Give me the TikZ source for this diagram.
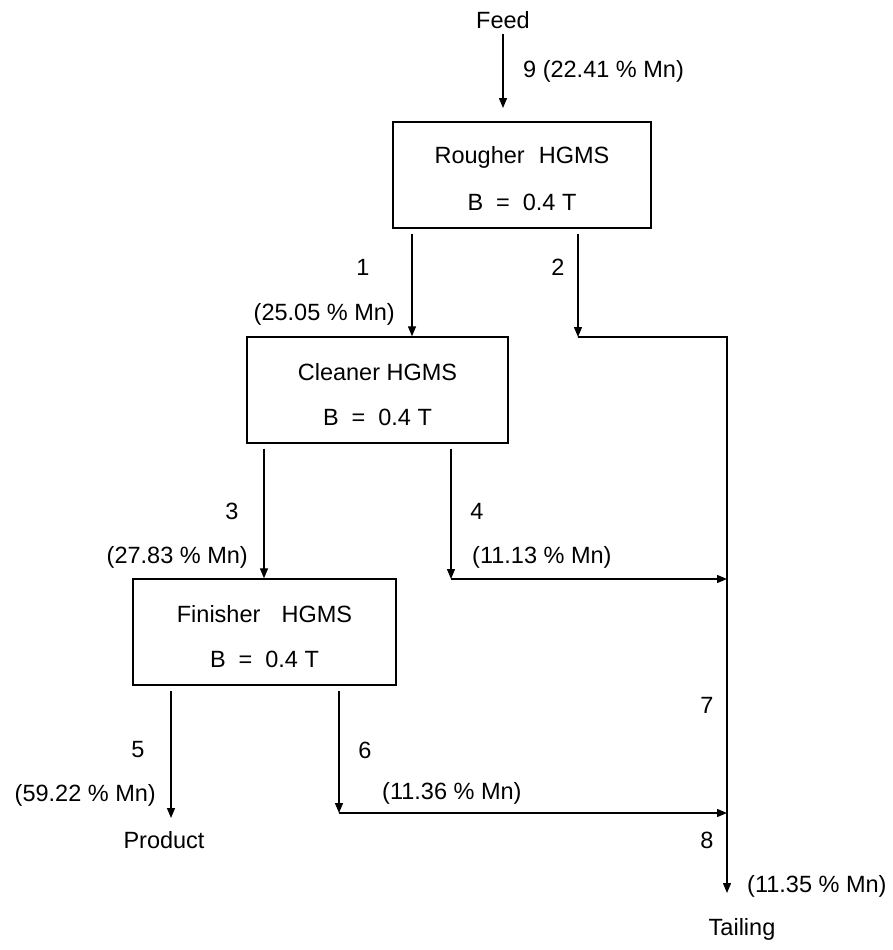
\documentclass[tikz,border=0pt]{standalone}
\usepackage{fontspec}
\setmainfont{Liberation Sans}
\usetikzlibrary{arrows.meta}
\begin{document}
\begin{tikzpicture}[x=1pt,y=-1pt,
  every node/.style={font=\fontsize{23.5}{28}\selectfont, inner sep=0pt},
  box/.style={draw, line width=1.4pt},
  arr/.style={line width=1.3pt, -{Triangle[length=10pt,width=8pt]}},
  ln/.style={line width=1.3pt}]
\useasboundingbox (0,0) rectangle (893,950);

% boxes
\node[box, minimum width=258pt, minimum height=106pt] (rough) at (522,175) {};
\node[box, minimum width=261pt, minimum height=106pt] (clean) at (377.5,390) {};
\node[box, minimum width=263pt, minimum height=106pt] (fin) at (264.5,632) {};

% box texts
\node (rt1) at ([yshift=18pt]rough.center) {Rougher\hspace{0.6em}HGMS};
\node (rt2) at ([yshift=-27pt]rough.center) {B\hspace{0.55em}=\hspace{0.55em}0.4 T};
\node (ct1) at ([yshift=18pt]clean.center) {Cleaner HGMS};
\node (ct2) at ([yshift=-27pt]clean.center) {B\hspace{0.55em}=\hspace{0.55em}0.4 T};
\node (ft1) at ([yshift=18pt]fin.center) {Finisher\hspace{0.9em}HGMS};
\node (ft2) at ([yshift=-27pt]fin.center) {B\hspace{0.55em}=\hspace{0.55em}0.4 T};

% texts
\node (feed) at (503,20) {Feed};
\node[anchor=west] (l9) at (523,71) {9 (22.41 \% Mn)};
\node (l1) at (363,267) {1};
\node (l2) at (558,267) {2};
\node[anchor=east] (c1) at (395,314) {(25.05 \% Mn)};
\node (l3) at (232,511) {3};
\node (l4) at (477,511) {4};
\node[anchor=east] (c3) at (248,557) {(27.83 \% Mn)};
\node[anchor=west] (c4) at (472,557) {(11.13 \% Mn)};
\node (l5) at (138,750) {5};
\node (l6) at (365,750) {6};
\node[anchor=east] (c5) at (156,795) {(59.22 \% Mn)};
\node[anchor=west] (c6) at (382,793) {(11.36 \% Mn)};
\node (prod) at (164,840) {Product};
\node (l7) at (707,705) {7};
\node (l8) at (707,840) {8};
\node[anchor=west] (c8) at (747,886) {(11.35 \% Mn)};
\node (tail) at (742,929) {Tailing};

% junction coordinates
\coordinate (f9) at (503,108);
\coordinate (j2) at (578,337);
\coordinate (jr) at (727,337);
\coordinate (j4) at (451,579);
\coordinate (m4) at (727,579);
\coordinate (j6) at (339,813);
\coordinate (m6) at (727,813);
\coordinate (t8) at (727,893);
\coordinate (p5) at (171,818);

% connectors
\draw[arr] (feed.south) ++(0,5) -- (f9);
\draw[arr, shorten <=5pt] (rough.south -| 412,0) -- (clean.north -| 412,0);
\draw[arr, shorten <=5pt] (rough.south -| j2) -- (j2);
\draw[ln] (j2) -- (jr) -- (m4);
\draw[arr] (m4) -- (t8);
\draw[arr, shorten <=5pt] (clean.south -| 264,0) -- (fin.north -| 264,0);
\draw[arr, shorten <=5pt] (clean.south -| j4) -- (j4);
\draw[arr] (j4) -- (m4);
\draw[arr, shorten <=5pt] (fin.south -| p5) -- (p5);
\draw[arr, shorten <=5pt] (fin.south -| j6) -- (j6);
\draw[arr] (j6) -- (m6);
\end{tikzpicture}
\end{document}
